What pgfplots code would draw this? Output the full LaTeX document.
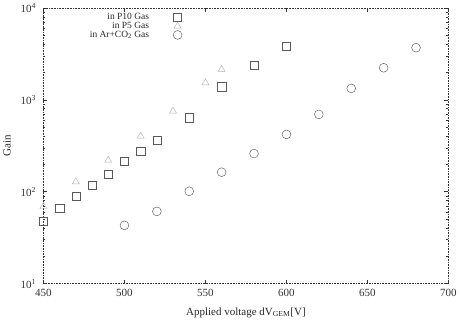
\documentclass[border=0pt]{standalone}
\usepackage{fontspec}
\setmainfont{Liberation Serif}
\usepackage{pgfplots}
\pgfplotsset{compat=1.18}
\begin{document}
\begin{tikzpicture}
\begin{axis}[
 width=404bp, height=275bp, scale only axis,
 xmin=450, xmax=700, ymode=log, ymin=10, ymax=10000,
 xtick={450,500,...,700},
 ytick={10,100,1000,10000},
 yticklabels={10\textsuperscript{1},10\textsuperscript{2},10\textsuperscript{3},10\textsuperscript{4}},
 /pgf/number format/assume math mode=true,
 /pgf/number format/set thousands separator={},
 axis line style={densely dotted, line width=0.6pt, black!80},
 tick style={black!80, line width=0.5pt},
 major tick length=4bp, minor tick length=2bp,
 tick label style={font=\fontsize{11}{11}\selectfont, black!80},
 xticklabel style={yshift=-2bp},
 yticklabel style={xshift=-4bp},
 xlabel={Applied voltage dV\textsubscript{GEM}[V]},
 ylabel={Gain},
 xlabel style={yshift=-4bp},
 ylabel style={yshift=3bp},
 label style={font=\fontsize{11}{11}\selectfont, black!85},
 legend style={draw=none, fill=none, at={(0.35,0.995)}, anchor=north east,
   font=\fontsize{9.5}{9.5}\selectfont, row sep=-3pt, column sep=22bp, text=black!85},
 legend cell align=right,
 legend plot pos=right,
]
\addplot[only marks, mark=square, mark size=4.1bp, draw=black!65, mark options={line width=0.45pt}] coordinates {
(450,48) (460,66) (470,89) (480,118) (490,156) (500,213) (510,278) (520,363) (540,637) (560,1387) (580,2390) (600,3850)};
\addlegendentry{in P10 Gas}
\addplot[only marks, mark=triangle, mark size=4bp, draw=black!30, mark options={line width=0.45pt}] coordinates {
(450,69) (470,128) (490,220) (510,402) (530,753) (550,1530) (560,2140)};
\addlegendentry{in P5 Gas}
\addplot[only marks, mark=o, mark size=4.4bp, draw=black!65, mark options={line width=0.45pt}] coordinates {
(500,43) (520,61) (540,101) (560,163) (580,260) (600,420) (620,693) (640,1330) (660,2230) (680,3690)};
\addlegendentry{in Ar+CO\textsubscript{2} Gas}
\end{axis}
\end{tikzpicture}
\end{document}
